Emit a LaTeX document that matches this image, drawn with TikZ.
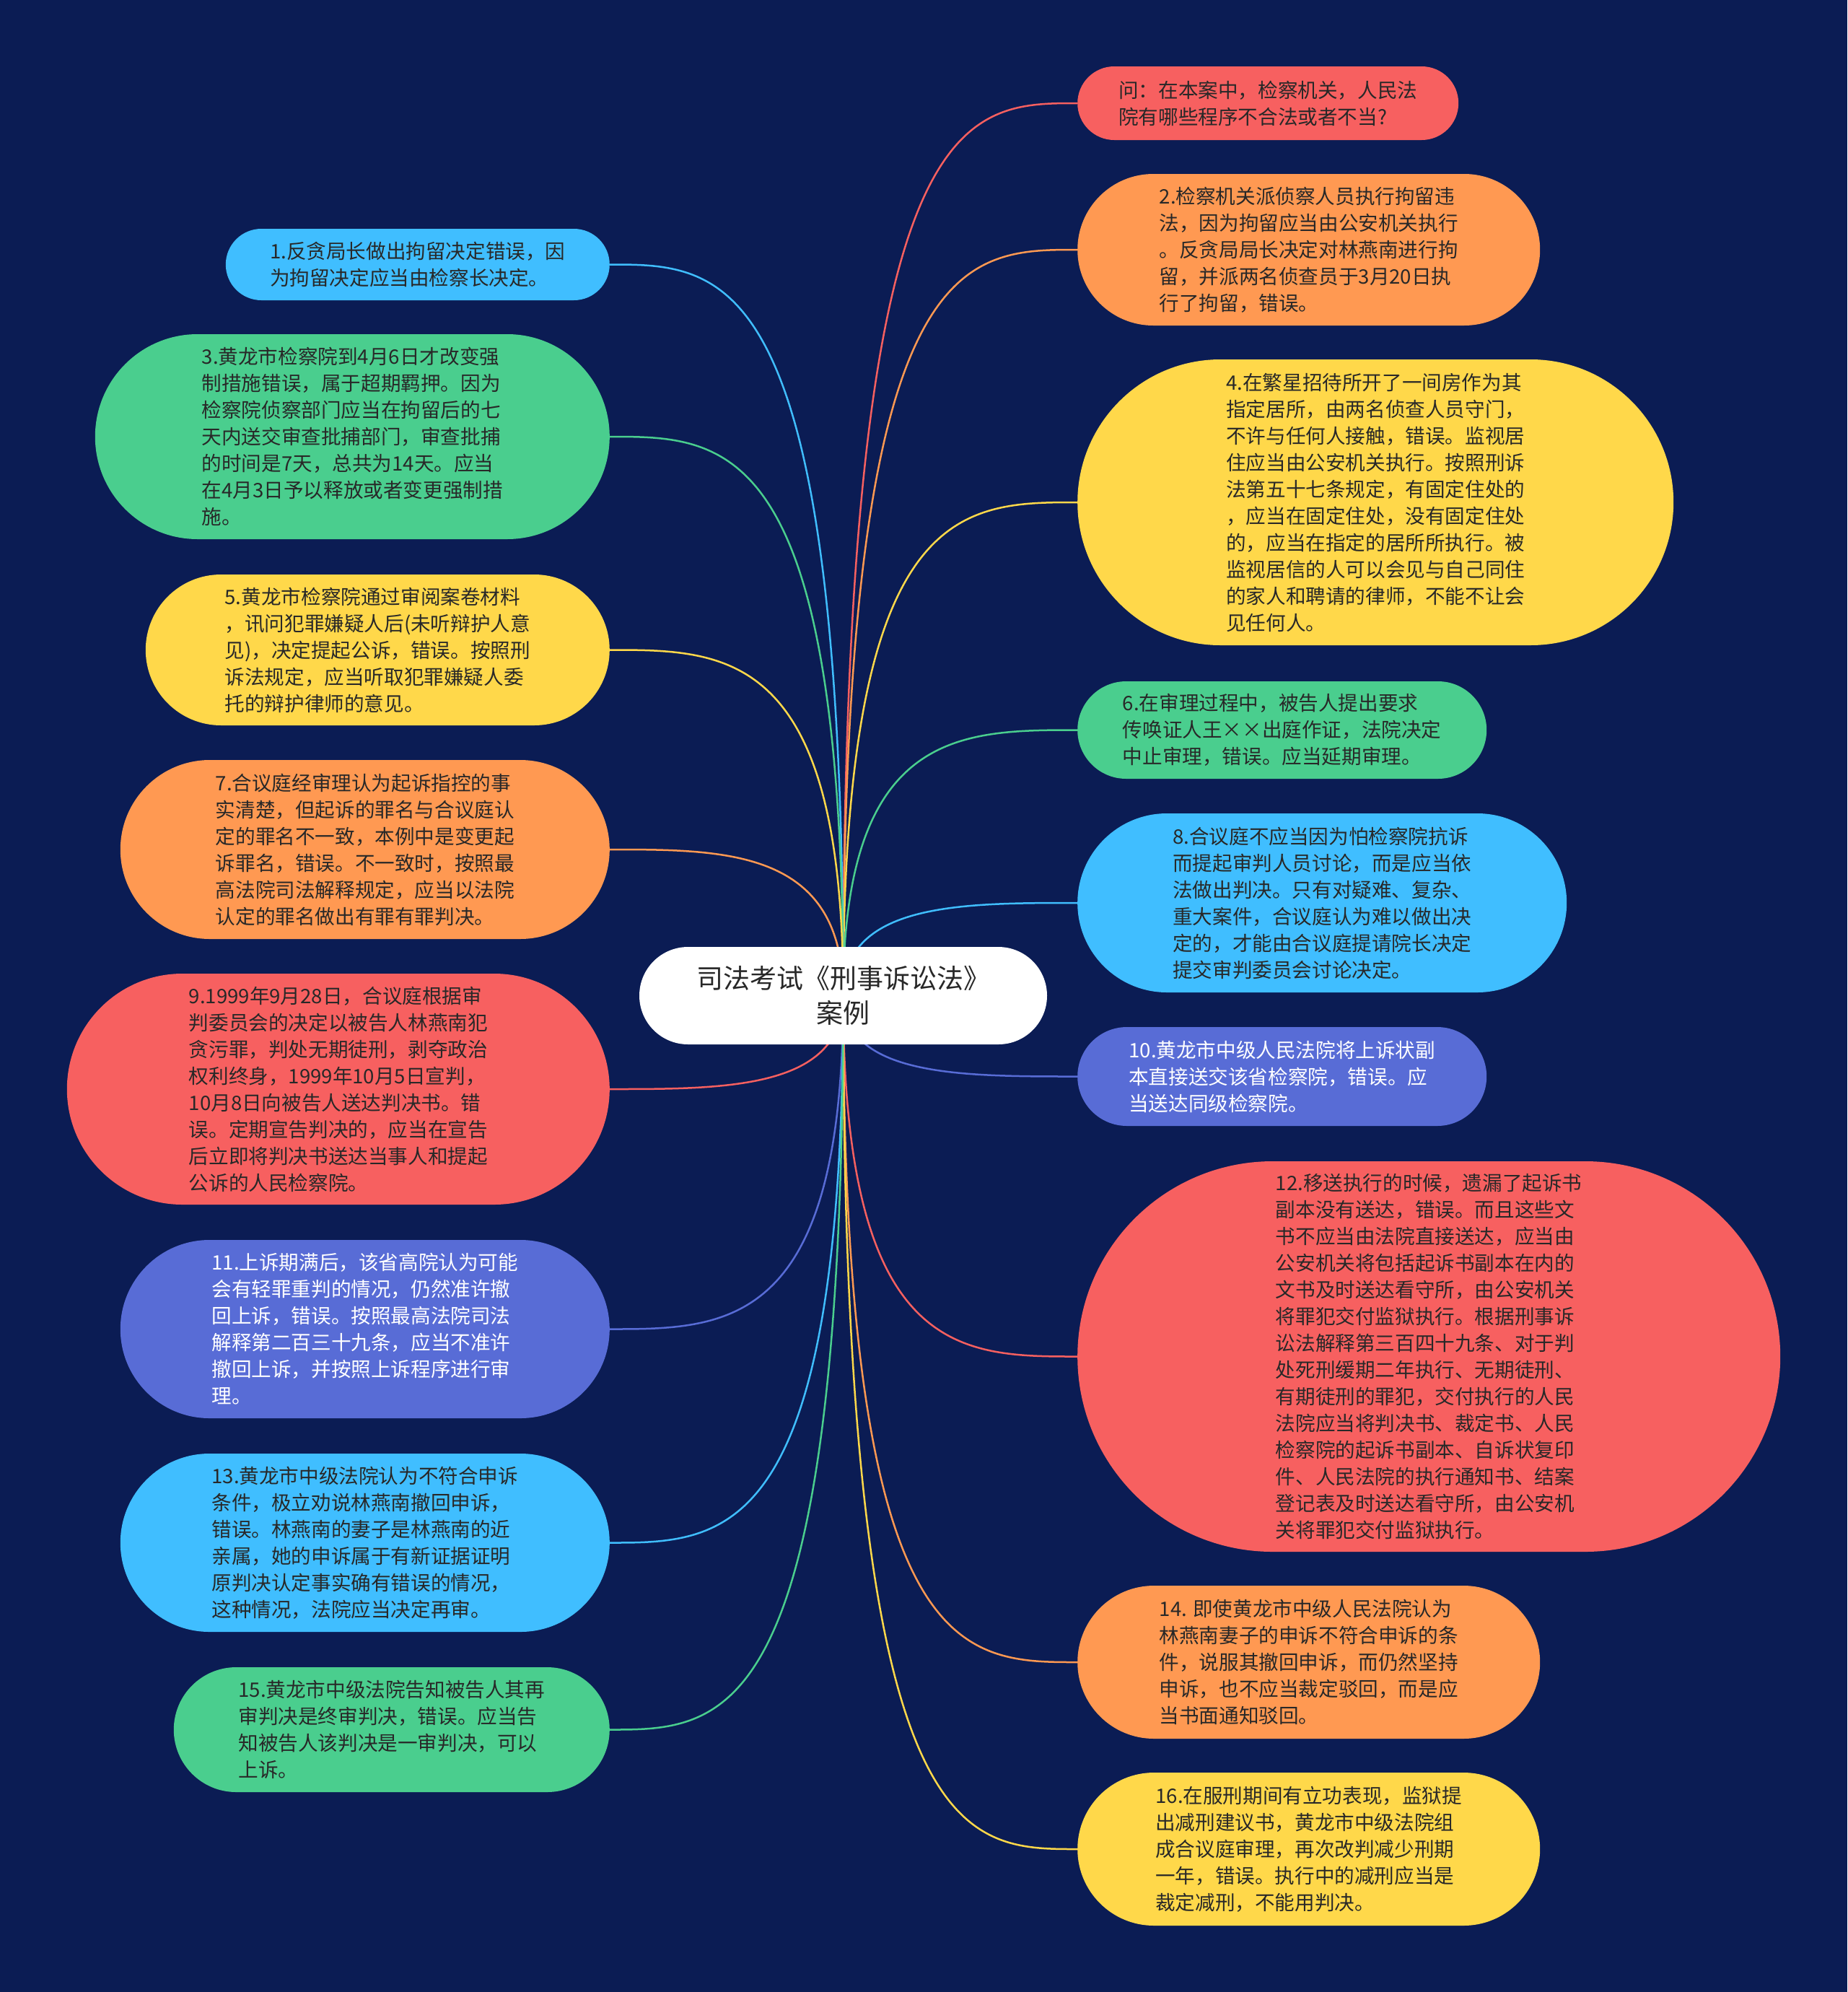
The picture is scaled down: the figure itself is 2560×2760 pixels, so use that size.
\documentclass[tikz,border=0pt]{standalone}
\usepackage{fontspec}
\setmainfont{Noto Sans CJK SC}
\usetikzlibrary{shapes.misc,backgrounds,calc}
\definecolor{bgc}{RGB}{11,28,84}
\definecolor{cblue}{RGB}{64,190,255}
\definecolor{cgreen}{RGB}{74,206,142}
\definecolor{cyellow}{RGB}{255,216,74}
\definecolor{corange}{RGB}{255,153,82}
\definecolor{cred}{RGB}{247,96,96}
\definecolor{cindigo}{RGB}{88,108,214}
\definecolor{txt}{RGB}{40,40,40}
\begin{document}
\begin{tikzpicture}[x=1pt,y=-1pt,
  leaf/.style={rounded rectangle, inner sep=0pt, align=left, text=txt,
    font=\fontsize{27.6}{37}\selectfont},
  leafL/.style={leaf, anchor=east},
  leafR/.style={leaf, anchor=west},
  link/.style={line width=2.5pt}]
\begin{pgfonlayer}{background}
\fill[bgc] (0,0) rectangle (2560,2760);
\end{pgfonlayer}
\useasboundingbox (0,0) rectangle (2560,2760);

% center
\node[rounded rectangle, fill=white, minimum width=565pt, minimum height=135pt, inner sep=0pt,
  align=center, text=txt, font=\fontsize{37}{48}\selectfont] (c) at (1168.5,1379.5)
  {司法考试《刑事诉讼法》\\案例};

% right column
\node[leafR, fill=cred, minimum width=528pt, minimum height=102pt] (q) at (1493,143)
  {问：在本案中，检察机关，人民法\\院有哪些程序不合法或者不当?};
\node[leafR, fill=corange, minimum width=641pt, minimum height=210pt] (n2) at (1493,346)
  {2.检察机关派侦察人员执行拘留违\\法，因为拘留应当由公安机关执行\\。反贪局局长决定对林燕南进行拘\\留，并派两名侦查员于3月20日执\\行了拘留，错误。};
\node[leafR, fill=cyellow, minimum width=826pt, minimum height=396pt] (n4) at (1493,696)
  {4.在繁星招待所开了一间房作为其\\指定居所，由两名侦查人员守门，\\不许与任何人接触，错误。监视居\\住应当由公安机关执行。按照刑诉\\法第五十七条规定，有固定住处的\\，应当在固定住处，没有固定住处\\的，应当在指定的居所所执行。被\\监视居信的人可以会见与自己同住\\的家人和聘请的律师，不能不让会\\见任何人。};
\node[leafR, fill=cgreen, minimum width=567pt, minimum height=135pt] (n6) at (1493,1011.5)
  {6.在审理过程中，被告人提出要求\\传唤证人王××出庭作证，法院决定\\中止审理，错误。应当延期审理。};
\node[leafR, fill=cblue, minimum width=678pt, minimum height=248pt] (n8) at (1493,1251)
  {8.合议庭不应当因为怕检察院抗诉\\而提起审判人员讨论，而是应当依\\法做出判决。只有对疑难、复杂、\\重大案件，合议庭认为难以做出决\\定的，才能由合议庭提请院长决定\\提交审判委员会讨论决定。};
\node[leafR, fill=cindigo, text=white, minimum width=567pt, minimum height=137pt] (n10) at (1493,1491.5)
  {10.黄龙市中级人民法院将上诉状副\\本直接送交该省检察院，错误。应\\当送达同级检察院。};
\node[leafR, fill=cred, minimum width=974pt, minimum height=541pt] (n12) at (1493,1879.5)
  {12.移送执行的时候，遗漏了起诉书\\副本没有送达，错误。而且这些文\\书不应当由法院直接送达，应当由\\公安机关将包括起诉书副本在内的\\文书及时送达看守所，由公安机关\\将罪犯交付监狱执行。根据刑事诉\\讼法解释第三百四十九条、对于判\\处死刑缓期二年执行、无期徒刑、\\有期徒刑的罪犯，交付执行的人民\\法院应当将判决书、裁定书、人民\\检察院的起诉书副本、自诉状复印\\件、人民法院的执行通知书、结案\\登记表及时送达看守所，由公安机\\关将罪犯交付监狱执行。};
\node[leafR, fill=corange, minimum width=641pt, minimum height=212pt] (n14) at (1493,2303)
  {14. 即使黄龙市中级人民法院认为\\林燕南妻子的申诉不符合申诉的条\\件，说服其撤回申诉，而仍然坚持\\申诉，也不应当裁定驳回，而是应\\当书面通知驳回。};
\node[leafR, fill=cyellow, minimum width=641pt, minimum height=212pt] (n16) at (1493,2562)
  {16.在服刑期间有立功表现，监狱提\\出减刑建议书，黄龙市中级法院组\\成合议庭审理，再次改判减少刑期\\一年，错误。执行中的减刑应当是\\裁定减刑，不能用判决。};

% left column
\node[leafL, fill=cblue, minimum width=532pt, minimum height=99pt] (n1) at (845,366.5)
  {1.反贪局长做出拘留决定错误，因\\为拘留决定应当由检察长决定。};
\node[leafL, fill=cgreen, minimum width=713pt, minimum height=284pt] (n3) at (845,605)
  {3.黄龙市检察院到4月6日才改变强\\制措施错误，属于超期羁押。因为\\检察院侦察部门应当在拘留后的七\\天内送交审查批捕部门，审查批捕\\的时间是7天，总共为14天。应当\\在4月3日予以释放或者变更强制措\\施。};
\node[leafL, fill=cyellow, minimum width=643pt, minimum height=209pt] (n5) at (845,900.5)
  {5.黄龙市检察院通过审阅案卷材料\\，讯问犯罪嫌疑人后(未听辩护人意\\见)，决定提起公诉，错误。按照刑\\诉法规定，应当听取犯罪嫌疑人委\\托的辩护律师的意见。};
\node[leafL, fill=corange, minimum width=678pt, minimum height=248pt] (n7) at (845,1177)
  {7.合议庭经审理认为起诉指控的事\\实清楚，但起诉的罪名与合议庭认\\定的罪名不一致，本例中是变更起\\诉罪名，错误。不一致时，按照最\\高法院司法解释规定，应当以法院\\认定的罪名做出有罪有罪判决。};
\node[leafL, fill=cred, minimum width=752pt, minimum height=320pt] (n9) at (845,1509)
  {9.1999年9月28日，合议庭根据审\\判委员会的决定以被告人林燕南犯\\贪污罪，判处无期徒刑，剥夺政治\\权利终身，1999年10月5日宣判，\\10月8日向被告人送达判决书。错\\误。定期宣告判决的，应当在宣告\\后立即将判决书送达当事人和提起\\公诉的人民检察院。};
\node[leafL, fill=cindigo, text=white, minimum width=678pt, minimum height=247pt] (n11) at (845,1841.5)
  {11.上诉期满后，该省高院认为可能\\会有轻罪重判的情况，仍然准许撤\\回上诉，错误。按照最高法院司法\\解释第二百三十九条，应当不准许\\撤回上诉，并按照上诉程序进行审\\理。};
\node[leafL, fill=cblue, minimum width=678pt, minimum height=247pt] (n13) at (845,2137.5)
  {13.黄龙市中级法院认为不符合申诉\\条件，极立劝说林燕南撤回申诉，\\错误。林燕南的妻子是林燕南的近\\亲属，她的申诉属于有新证据证明\\原判决认定事实确有错误的情况，\\这种情况，法院应当决定再审。};
\node[leafL, fill=cgreen, minimum width=604pt, minimum height=173pt] (n15) at (845,2396.5)
  {15.黄龙市中级法院告知被告人其再\\审判决是终审判决，错误。应当告\\知被告人该判决是一审判决，可以\\上诉。};

% connectors
\begin{pgfonlayer}{background}
\foreach \n/\col in {q/cred,n2/corange,n4/cyellow,n6/cgreen,n8/cblue,n10/cindigo,n12/cred,n14/corange,n16/cyellow}
  \draw[link, draw=\col] (c.center) .. controls (c.center |- \n.west) and ($(c.center |- \n.west)!0.5!(\n.west)$) .. (\n.west);
\foreach \n/\col in {n1/cblue,n3/cgreen,n5/cyellow,n7/corange,n9/cred,n11/cindigo,n13/cblue,n15/cgreen}
  \draw[link, draw=\col] (c.center) .. controls (c.center |- \n.east) and ($(c.center |- \n.east)!0.5!(\n.east)$) .. (\n.east);
\end{pgfonlayer}
\end{tikzpicture}
\end{document}
